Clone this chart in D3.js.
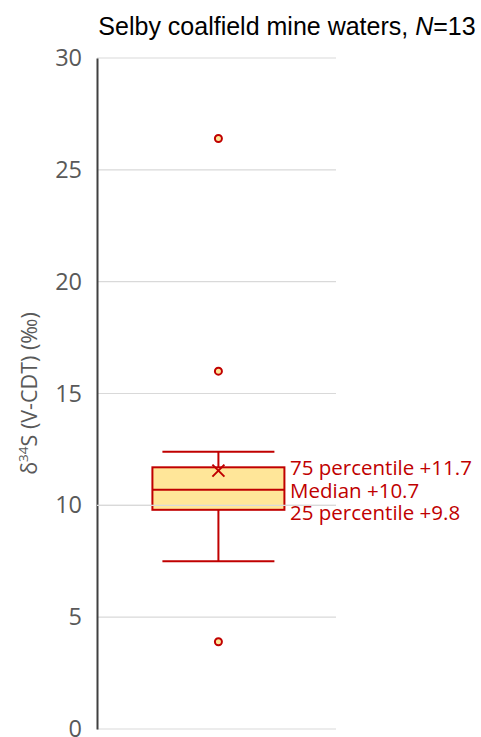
<!DOCTYPE html>
<html>
<head>
<meta charset="utf-8">
<script src="https://cdn.jsdelivr.net/npm/d3@7"></script>
<style>
  body { margin: 0; background: #fff; }
</style>
</head>
<body>
<div id="chart"></div>
<script>
// box statistics for the δ34S values
const stats = { min: 7.5, q1: 9.8, median: 10.7, q3: 11.7, max: 12.4, mean: 11.55 };
const outliers = [26.4, 16.0, 3.9];
const yTicks = [0, 5, 10, 15, 20, 25, 30];
const annotations = [
    { value: 11.7, label: "75 percentile +11.7" },
    { value: 10.7, label: "Median +10.7" },
    { value: 9.8, label: "25 percentile +9.8" }
];

const width = 481, height = 737;
const red = "#c00000";

const svg = d3.select("#chart").append("svg")
    .attr("width", width)
    .attr("height", height);

const y = d3.scaleLinear().domain([0, 30]).range([729, 58]);
const x = d3.scaleLinear().domain([0, 1]).range([97, 336]);
const cx = x(0.508);

// gridlines
svg.append("g")
    .selectAll("line")
    .data(yTicks)
    .join("line")
    .attr("x1", x(0)).attr("x2", x(1))
    .attr("y1", d => y(d)).attr("y2", d => y(d))
    .attr("stroke", "#d9d9d9")
    .attr("stroke-width", 1.2);

// y axis
const yAxis = d3.axisLeft(y).tickValues(yTicks).tickSize(0).tickPadding(15);
const ax = svg.append("g")
    .attr("transform", `translate(${x(0)},0)`)
    .call(yAxis);
ax.select(".domain").attr("stroke", "#404040").attr("stroke-width", 2);
ax.selectAll("text")
    .attr("fill", "#595959")
    .attr("font-family", "Open Sans, sans-serif")
    .attr("font-size", 23.5);

// axis title
svg.append("text")
    .attr("transform", `translate(37,${(y(0) + y(30)) / 2}) rotate(-90)`)
    .attr("text-anchor", "middle")
    .attr("fill", "#595959")
    .attr("font-family", "Open Sans, sans-serif")
    .attr("font-size", 21.5)
    .html('δ<tspan baseline-shift="super" font-size="13.5">34</tspan>S (V-CDT) (‰)');

// chart title
svg.append("text")
    .attr("x", 287).attr("y", 35)
    .attr("text-anchor", "middle")
    .attr("fill", "#000")
    .attr("font-family", "Liberation Sans, Arial, sans-serif")
    .attr("font-size", 25)
    .html('Selby coalfield mine waters, <tspan font-style="italic">N</tspan>=13');

const boxHalf = 66, capHalf = 56;
const g = svg.append("g");

// whiskers
g.append("line")
    .attr("x1", cx).attr("x2", cx)
    .attr("y1", y(stats.max)).attr("y2", y(stats.q3))
    .attr("stroke", red).attr("stroke-width", 2);
g.append("line")
    .attr("x1", cx).attr("x2", cx)
    .attr("y1", y(stats.q1)).attr("y2", y(stats.min))
    .attr("stroke", red).attr("stroke-width", 2);
g.selectAll(".cap")
    .data([stats.max, stats.min])
    .join("line")
    .attr("class", "cap")
    .attr("x1", cx - capHalf).attr("x2", cx + capHalf)
    .attr("y1", d => y(d)).attr("y2", d => y(d))
    .attr("stroke", red).attr("stroke-width", 2);

// box
g.append("rect")
    .attr("x", cx - boxHalf)
    .attr("y", y(stats.q3))
    .attr("width", boxHalf * 2)
    .attr("height", y(stats.q1) - y(stats.q3))
    .attr("fill", "#ffe699")
    .attr("stroke", red).attr("stroke-width", 2);
g.append("line")
    .attr("x1", cx - boxHalf).attr("x2", cx + boxHalf)
    .attr("y1", y(stats.median)).attr("y2", y(stats.median))
    .attr("stroke", red).attr("stroke-width", 2);

// the 10 gridline shows through the lower part of the box
svg.append("line")
    .attr("x1", x(0)).attr("x2", x(1))
    .attr("y1", y(10)).attr("y2", y(10))
    .attr("stroke", "#d9d9d9")
    .attr("stroke-width", 1.2);

// mean marker
const m = 6;
g.append("path")
    .attr("d", `M${cx - m},${y(stats.mean) - m}L${cx + m},${y(stats.mean) + m}M${cx - m},${y(stats.mean) + m}L${cx + m},${y(stats.mean) - m}`)
    .attr("stroke", red).attr("stroke-width", 2);

// outliers
g.selectAll(".out")
    .data(outliers)
    .join("circle")
    .attr("class", "out")
    .attr("cx", cx)
    .attr("cy", d => y(d))
    .attr("r", 3.5)
    .attr("fill", "#ffe699")
    .attr("stroke", red).attr("stroke-width", 2);

// annotations
svg.selectAll(".ann")
    .data(annotations)
    .join("text")
    .attr("class", "ann")
    .attr("x", 290)
    .attr("y", (d, i) => 475 + i * 22.5)
    .attr("fill", red)
    .attr("font-family", "Open Sans, sans-serif")
    .attr("font-size", 20.5)
    .text(d => d.label);
</script>
</body>
</html>
